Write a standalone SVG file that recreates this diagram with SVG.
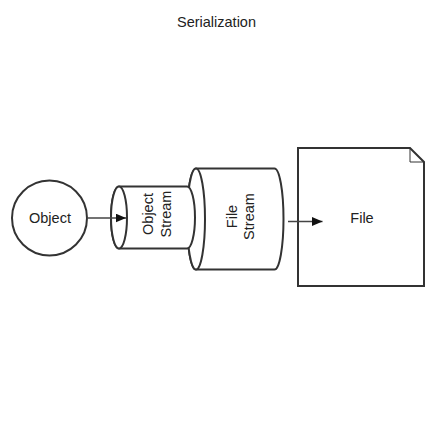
<svg xmlns="http://www.w3.org/2000/svg" width="443" height="441" viewBox="0 0 443 441">
<defs>
<style>
.shape{fill:#fff;stroke:#333;stroke-width:2}
.thin{fill:none;stroke:#333;stroke-width:1}
.lbl{font-family:"Liberation Sans",Arial,sans-serif;font-size:14.5px;fill:#222;text-anchor:middle;dominant-baseline:central}
.edge{fill:none;stroke:#444;stroke-width:1.5}
</style>
<marker id="arr" markerUnits="userSpaceOnUse" markerWidth="11" markerHeight="10" refX="10.5" refY="4.5" orient="auto">
<path d="M0,0 L10.5,4.5 L0,9 Z" fill="#111"/>
</marker>
</defs>
<rect width="443" height="441" fill="#fff"/>
<text class="lbl" x="216.5" y="21.5">Serialization</text>

<g id="file">
<path class="shape" d="M298,148 H410 L424,162 V286 H298 Z"/>
<path class="thin" d="M410,148 V162 H424"/>
<text class="lbl" x="362" y="217.5">File</text>
</g>

<g id="file-stream">
<path class="shape" d="M196,168.5 H274.5 A9,50.5 0 0 1 274.5,269.5 H196 A9,50.5 0 0 1 196,168.5 Z"/>
<ellipse class="shape" cx="196" cy="219" rx="9" ry="50.5"/>
<text class="lbl" transform="translate(240.3,216.5) rotate(-90)"><tspan x="0" y="-8.7">File</tspan><tspan x="0" y="8.7">Stream</tspan></text>
</g>

<g id="object-stream">
<path class="shape" d="M119,186.5 H187 A8,31 0 0 1 187,248.5 H119 A8,31 0 0 1 119,186.5 Z"/>
<ellipse class="shape" cx="119" cy="217.5" rx="8" ry="31"/>
<text class="lbl" transform="translate(157,214) rotate(-90)"><tspan x="0" y="-8.7">Object</tspan><tspan x="0" y="8.7">Stream</tspan></text>
</g>

<g id="object">
<circle class="shape" cx="49.5" cy="218" r="37.5"/>
<text class="lbl" x="50" y="218">Object</text>
</g>

<g id="connectors">
<path class="edge" d="M87,218 H126" marker-end="url(#arr)"/>
<path class="edge" d="M288,221.5 H322.5" marker-end="url(#arr)"/>
</g>
</svg>
